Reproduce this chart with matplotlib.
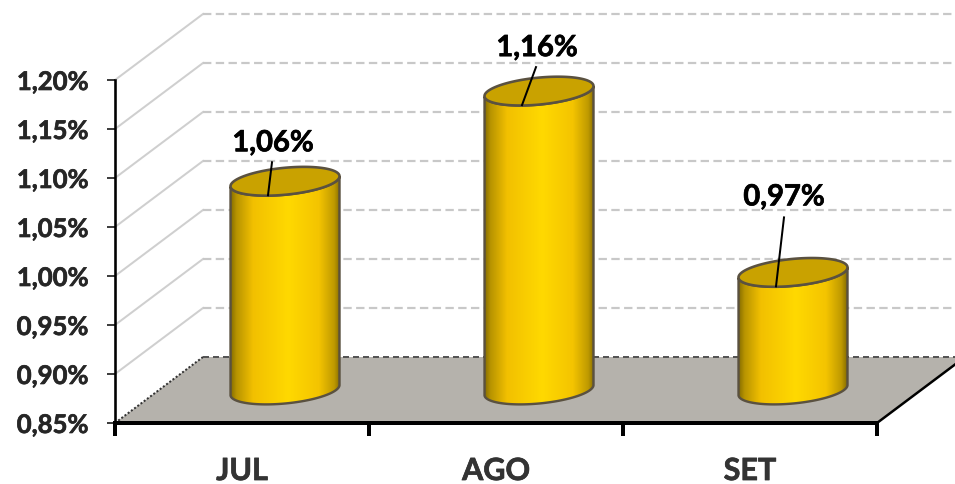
import numpy as np
import matplotlib
matplotlib.use("Agg")
import matplotlib.pyplot as plt
import matplotlib.patheffects as pe
from matplotlib.patches import Polygon

plt.rcParams['font.family'] = ['Lato', 'DejaVu Sans']

categories = ["JUL", "AGO", "SET"]
values = [1.063, 1.155, 0.97]
value_labels = ["1,06%", "1,16%", "0,97%"]
y_ticks = [0.85, 0.90, 0.95, 1.00, 1.05, 1.10, 1.15, 1.20]
y_tick_labels = ["0,85%", "0,90%", "0,95%", "1,00%", "1,05%", "1,10%", "1,15%", "1,20%"]

W, H = 955, 485
fig = plt.figure(figsize=(W / 100, H / 100), dpi=100, facecolor="white")
ax = fig.add_axes([115 / W, (H - 424) / H, 762 / W, 343 / H])
ax.set_xlim(0, 3)
ax.set_ylim(0.85, 1.20)
ax.patch.set_visible(False)

# pixels -> data units
def px(d):
    return d * 3 / 762.0

def py(d):
    return d * 0.35 / 343.0

depth_x, depth_y = px(88), py(66)
lw = 0.72  # 1 pixel in points
thick = [pe.withStroke(linewidth=0.5, foreground="black")]
thick_grey = [pe.withStroke(linewidth=0.5, foreground="#2b2b2b")]

# floor
floor = Polygon([(0, 0.85), (depth_x, 0.85 + depth_y), (3 + depth_x, 0.85 + depth_y), (3, 0.85)],
                closed=True, fc="#b5b2ac", ec="none", clip_on=False, zorder=1)
ax.add_patch(floor)
ax.plot([0, depth_x], [0.85, 0.85 + depth_y], color="#333333", lw=2 * lw, ls=(0, (1, 1)), clip_on=False, zorder=2)
ax.plot([depth_x, 3 + depth_x], [0.85 + depth_y] * 2, color="#555555", lw=2 * lw, ls=(0, (3, 2)), clip_on=False, zorder=2)
ax.plot([3, 3 + depth_x], [0.85, 0.85 + depth_y], color="black", lw=2.5 * lw, clip_on=False, zorder=2)

# walls: gridlines
for t in y_ticks[1:]:
    ax.plot([0, depth_x], [t, t + depth_y], color="#cfcfcf", lw=2 * lw, clip_on=False, zorder=1)
    ax.plot([depth_x, 3 + depth_x], [t + depth_y] * 2, color="#c8c8c8", lw=2.2 * lw, ls=(0, (3.8, 2)), clip_on=False, zorder=1)

# cylinders
grad = matplotlib.colors.LinearSegmentedColormap.from_list(
    "cyl", [(0, "#8a7000"), (0.05, "#b89400"), (0.2, "#f2c000"), (0.52, "#ffd900"),
            (0.8, "#f4c400"), (0.94, "#bf9a00"), (1, "#806800")])
half_w, half_h, tilt = px(54.5), py(13.5), py(5)
t = np.linspace(0, 2 * np.pi, 181)

def ring(cx, cy):
    return cx + half_w * np.cos(t), cy + half_h * np.sin(t) + tilt * np.cos(t)

leader_tops = [(-13, 19), (-3, 24), (-9, 55)]
label_pos = [(-12, 38), (-2, 43), (-9, 75)]
for i, v in enumerate(values):
    cx = i + 0.5 + depth_x / 2 - px(1)
    base = 0.85 + depth_y / 2
    top = v + depth_y / 2
    bx, by = ring(cx, base)
    tx, ty = ring(cx, top)
    lower = np.where(np.sin(t) <= 0)[0]
    order = np.argsort(bx[lower])
    body_x = np.r_[bx[lower][order], tx[lower][order][::-1]]
    body_y = np.r_[by[lower][order], ty[lower][order][::-1]]
    body = Polygon(np.c_[body_x, body_y], closed=True, fc="none", ec="#5a5140", lw=2.4 * lw,
                   clip_on=False, zorder=4)
    ax.add_patch(body)
    img = ax.imshow(np.linspace(0, 1, 256)[None, :], cmap=grad, aspect="auto",
                    extent=[cx - half_w, cx + half_w, 0.8, 1.3], zorder=3)
    img.set_clip_path(body)
    ax.fill(tx, ty, fc="#c9a200", ec="#5a5140", lw=2.6 * lw, clip_on=False, zorder=5)

    # data label and leader
    ax.plot([cx + px(-17), cx + px(leader_tops[i][0])], [top - py(14), top + py(leader_tops[i][1])],
            color="black", lw=2 * lw, clip_on=False, zorder=6)
    ax.text(cx + px(label_pos[i][0]), top + py(label_pos[i][1]), value_labels[i], ha="center", va="center",
            fontsize=21, fontweight="bold", color="black", zorder=7, path_effects=thick)

ax.set_xlim(0, 3)
ax.set_ylim(0.85, 1.20)

# axes
for s in ["top", "right"]:
    ax.spines[s].set_visible(False)
ax.spines["left"].set_linewidth(2.6 * lw)
ax.spines["bottom"].set_linewidth(4 * lw)
ax.spines["left"].set_zorder(8)
ax.spines["bottom"].set_zorder(8)
ax.set_yticks(y_ticks)
ax.set_yticklabels(y_tick_labels, fontsize=18.5, fontweight="bold", color="#262626", path_effects=thick_grey)
ax.tick_params(axis="y", length=5.5, width=1.5 * lw, pad=13.5, color="black")
ax.set_xticks([0.5, 1.5, 2.5])
ax.set_xticklabels(categories, fontsize=22, fontweight="bold", color="#333333",
                   path_effects=[pe.withStroke(linewidth=0.5, foreground="#333333")])
ax.set_xticks([0, 1, 2, 3], minor=True)
ax.tick_params(axis="x", which="major", length=0, pad=24.5)
ax.tick_params(axis="x", which="minor", length=9, width=4 * lw, color="black")

fig.savefig("out.png", dpi=100, facecolor="white")
